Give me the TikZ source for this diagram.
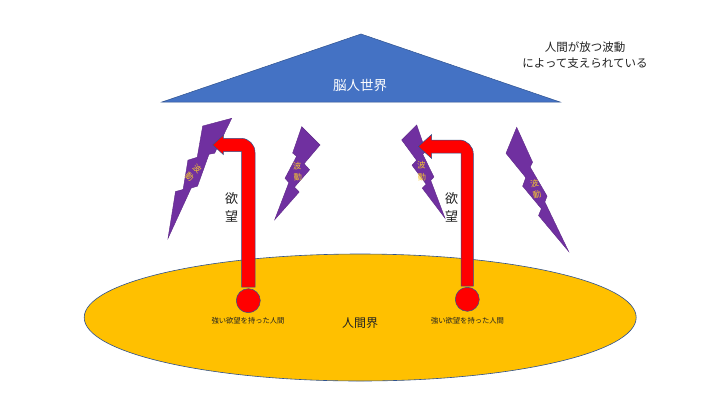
\documentclass[tikz,border=0pt]{standalone}
\usepackage{fontspec}
\setmainfont{Noto Sans CJK JP}
\usetikzlibrary{shapes.geometric}
\definecolor{tri}{HTML}{4472C4}
\definecolor{edge}{HTML}{2F528F}
\definecolor{gold}{HTML}{FFC000}
\definecolor{bolttxt}{HTML}{F5C531}
\definecolor{boltc}{HTML}{7030A0}
\definecolor{txt}{HTML}{222222}
\tikzset{
  boltshape/.style={fill=boltc, draw=boltc!85!black, line width=0.4pt},
  bolttext/.style={text=bolttxt, font=\fontsize{8.3}{11.5}\selectfont, align=center, inner sep=0pt},
  arrowsh/.style={fill=red, draw=edge, line width=0.5pt},
  dot/.style={circle, fill=red, draw=edge, line width=0.5pt, minimum size=24pt, inner sep=0pt},
  smalltext/.style={text=txt, font=\fontsize{7.3}{8}\selectfont, inner sep=0pt},
  yoku/.style={text=txt, font=\fontsize{13}{18.4}\selectfont, align=center, inner sep=0pt},
}
\newcommand\mybolt[6]{%
  \begin{scope}[shift={(#1,#2)}, x={(#3pt,#4pt)}, y={(#5pt,#6pt)}]
    \filldraw[boltshape] (0.3916,0) -- (0,0.1816) -- (0.3502,0.3896) -- (0.2312,0.45)
      -- (0.5647,0.6437) -- (0.4624,0.6914) -- (1,1) -- (0.6837,0.5977)
      -- (0.7666,0.5563) -- (0.5106,0.3167) -- (0.594,0.2833) -- cycle;
  \end{scope}}
\begin{document}
\begin{tikzpicture}[x=1pt,y=-1pt]
\useasboundingbox (0,0) rectangle (720,405);
\fill[white] (0,0) rectangle (720,405);

% human world ellipse
\draw[fill=gold, draw=edge, line width=0.6pt] (360.2,317.5) ellipse [x radius=276pt, y radius=63.5pt];
\node[text=txt, font=\fontsize{12}{14}\selectfont] (hw) at (360,323) {人間界};

% brain world triangle
\filldraw[fill=tri, draw=edge, line width=0.5pt] (361,34) -- (560,102) -- (162,102) -- cycle;
\node[text=white, font=\fontsize{13.5}{15}\selectfont] (bw) at (360,85) {脳人世界};

% top-right note
\node[text=txt, font=\fontsize{11.5}{16.5}\selectfont, align=center] (note) at (585,55) {人間が放つ波動\\によって支えられている};

% lightning bolts
\mybolt{218.1}{107.3}{34.7}{-28.1}{-84.8}{-103}
\mybolt{319.8}{127.8}{-46.2}{2.8}{1.1}{-94.7}
\mybolt{401}{123.5}{40.1}{-3.8}{3.9}{-90.9}
\mybolt{501}{130}{40.1}{6.9}{27.5}{-128.3}
\node[bolttext, rotate=-40] (w1) at (193.3,172.7) {波\\動};
\node[bolttext, rotate=3] (w2) at (297.5,171.7) {波\\動};
\node[bolttext, rotate=2] (w3) at (421.7,171) {波\\動};
\node[bolttext, rotate=12] (w4) at (535.8,189) {波\\動};

% red bent arrows
\filldraw[arrowsh] (241.7,287) -- (241.7,151.5) -- (223.3,151.5) -- (223.3,154.5)
  -- (212.7,144.9) -- (223.3,135.3) -- (223.3,138.3) -- (241,138.3)
  .. controls (248.7,138.3) and (255,144.6) .. (255,152.3) -- (255,287) -- cycle;
\filldraw[arrowsh] (461,286) -- (461,153) -- (431.7,153) -- (431.7,158.5)
  -- (418.3,146.5) -- (431.7,134.5) -- (431.7,140) -- (459.3,140)
  .. controls (467,140) and (473.3,146.3) .. (473.3,154) -- (473.3,286) -- cycle;

% people
\node[dot] (p1) at (248.3,300.7) {};
\node[dot] (p2) at (467.3,299.3) {};
\node[smalltext] (l1) at (248,320.5) {強い欲望を持った人間};
\node[smalltext] (l2) at (467.5,320.5) {強い欲望を持った人間};

% desire labels
\node[yoku] (y1) at (231.7,207.5) {欲\\望};
\node[yoku] (y2) at (451.7,207.5) {欲\\望};
\end{tikzpicture}
\end{document}
